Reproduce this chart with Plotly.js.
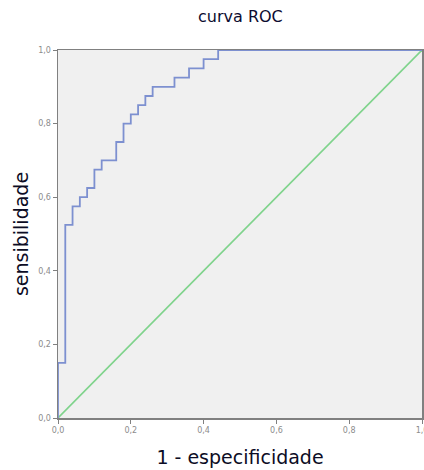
<!DOCTYPE html>
<html>
<head>
<meta charset="utf-8">
<script src="https://cdn.plot.ly/plotly-3.0.1.min.js"></script>
<style>html,body{margin:0;padding:0;background:#fff;}#chart{width:424px;height:470px;}</style>
</head>
<body>
<div id="chart"></div>
<script>
// ROC curve breakpoints (1 - especificidade, sensibilidade)
const fpr = [0, 0.02, 0.04, 0.06, 0.08, 0.10, 0.12, 0.16, 0.18, 0.20, 0.22, 0.24, 0.26, 0.32, 0.36, 0.40, 0.44, 1.0];
const tpr = [0, 0.15, 0.525, 0.575, 0.60, 0.625, 0.675, 0.70, 0.75, 0.80, 0.825, 0.85, 0.875, 0.90, 0.925, 0.95, 0.975, 1.0];
// reference line
const refX = [0, 1];
const refY = [0, 1];
const tickVals = [0, 0.2, 0.4, 0.6, 0.8, 1.0];

const traces = [
  {x: refX, y: refY, type: 'scatter', mode: 'lines', line: {color: '#7fd38c', width: 1.6}, cliponaxis: false, hoverinfo: 'skip'},
  {x: fpr, y: tpr, type: 'scatter', mode: 'lines', line: {color: '#7d90d0', width: 1.8, shape: 'vh'}, cliponaxis: false}
];

const axisCommon = {
  range: [0, 1], tickvals: tickVals, tickformat: '.1f',
  showgrid: false, zeroline: false,
  showline: true, mirror: true, linecolor: '#808080', linewidth: 1.5,
  ticks: 'outside', ticklen: 4, tickcolor: '#808080', tickwidth: 1,
  ticklabeloverflow: 'allow',
  tickfont: {family: 'DejaVu Sans', size: 8, color: '#8c8c8c'}
};

const layout = {
  width: 424, height: 470,
  margin: {l: 58, r: 2, t: 50, b: 52},
  paper_bgcolor: '#ffffff', plot_bgcolor: '#f0f0f0',
  separators: ', ',
  showlegend: false,
  title: {text: 'curva ROC', x: 0.567, xanchor: 'center', y: 0.965, yanchor: 'middle',
          font: {family: 'DejaVu Sans', size: 16, color: '#0c0c30'}},
  xaxis: Object.assign({}, axisCommon, {
    title: {text: '1 - especificidade', standoff: 16, font: {family: 'DejaVu Sans', size: 19, color: '#0c0c24'}}
  }),
  yaxis: Object.assign({}, axisCommon, {
    title: {text: 'sensibilidade', standoff: 4, font: {family: 'DejaVu Sans', size: 19, color: '#0c0c24'}}
  })
};

Plotly.newPlot('chart', traces, layout, {displayModeBar: false, staticPlot: true});
</script>
</body>
</html>
